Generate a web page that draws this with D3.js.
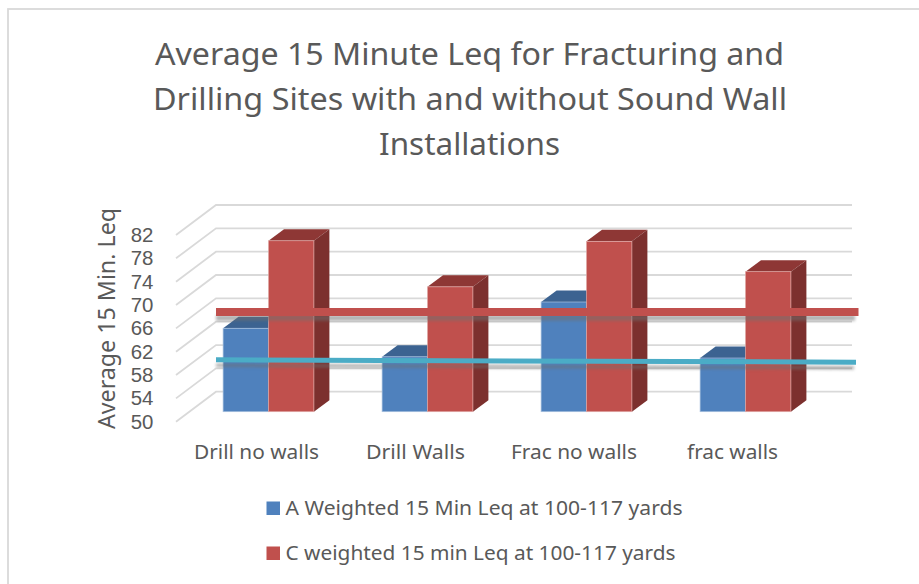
<!DOCTYPE html>
<html><head><meta charset="utf-8">
<script src="https://cdn.jsdelivr.net/npm/d3@7/dist/d3.min.js"></script>
<style>html,body{margin:0;padding:0;background:#fff}svg{display:block}text{font-family:"Noto Sans",Lato,sans-serif}</style>
</head><body><svg id="c" width="919" height="584"></svg>
<script>
const titleLines = ["Average 15 Minute Leq for Fracturing and","Drilling Sites with and without Sound Wall","Installations"];
const yAxisTitle = "Average 15 Min. Leq";
const categories = ["Drill no walls","Drill Walls","Frac no walls","frac walls"];
const seriesNames = ["A Weighted 15 Min Leq at 100-117 yards","C weighted 15 min Leq at 100-117 yards"];
const seriesA = [64.3,59.4,68.8,59.2];
const seriesC = [79.3,71.4,79.2,74.0];
const yTicks = [50,54,58,62,66,70,74,78,82];
const redLine = [68.8,68.8];
const tealLine = [60.6,60.2];

const svg = d3.select("#c");
const defs = svg.append("defs");
defs.append("filter").attr("id","sh").attr("filterUnits","userSpaceOnUse")
  .attr("x",0).attr("y",0).attr("width",919).attr("height",584)
  .append("feGaussianBlur").attr("stdDeviation",1.8);

svg.append("rect").attr("x",8).attr("y",9).attr("width",950).attr("height",620).attr("fill","#fff").attr("stroke","#d9d9d9").attr("stroke-width",1.8);

const x = d3.scaleBand().domain(categories).range([176,812]);
const y = d3.scaleLinear().domain([50,82]).range([421.7,235]);
const sub = d3.scaleBand().domain([0,1]).range([0,90.8]);
const backDx=40, backDy=30, barDx=13, barDy=10, depthDx=15.5, depthDy=11.5;
const barLeft = c => x(c)+x.bandwidth()/2-45.4+barDx;

function fit(sel,w){return sel.attr("textLength",w).attr("lengthAdjust","spacingAndGlyphs");}

// gridlines
const g = svg.append("g");
yTicks.forEach(t=>{
  const p = d3.path();
  p.moveTo(x.range()[0],y(t));
  p.lineTo(x.range()[0]+backDx,y(t)-backDy);
  p.lineTo(x.range()[1]+backDx,y(t)-backDy);
  g.append("path").attr("d",p).attr("fill","none").attr("stroke","#d9d9d9").attr("stroke-width",1.8);
});

// bars
const shades = [{f:"#4f81bd",t:"#3c6391",s:"#2f5277",e:"#a7c0de"},{f:"#c0504d",t:"#8e3735",s:"#7c302e",e:"#dfa8a6"}];
categories.forEach((c,i)=>{
  [seriesA[i],seriesC[i]].forEach((v,k)=>{
    const X=barLeft(c)+sub(k), W=sub.bandwidth(), Y=y(v)-barDy, B=y(50)-barDy, col=shades[k];
    const poly=pts=>g.append("polygon").attr("points",pts.map(q=>q.join(",")).join(" "));
    poly([[X,Y],[X+depthDx,Y-depthDy],[X+W+depthDx,Y-depthDy],[X+W,Y]]).attr("fill",col.t);
    poly([[X+W,Y],[X+W+depthDx,Y-depthDy],[X+W+depthDx,B-depthDy],[X+W,B]]).attr("fill",col.s);
    g.append("rect").attr("x",X).attr("y",Y).attr("width",W).attr("height",B-Y).attr("fill",col.f).attr("stroke",col.e).attr("stroke-width",.7);
  });
});

// annotation lines with soft shadow
const lx = d3.scaleLinear().domain([0,1]);
function annot(vals,x0,x1,sx1,color,w,shOff){
  const sh=d3.line().x((d,i)=>x0+(sx1-x0)*i).y(d=>y(d)+shOff);
  const line=d3.line().x((d,i)=>lx.range([x0,x1])(i)).y(d=>y(d));
  svg.append("path").attr("d",sh(vals)).attr("fill","none").attr("stroke","#6f6f6f").attr("stroke-width",w*0.7).attr("opacity",.55).attr("filter","url(#sh)");
  svg.append("path").attr("d",line(vals)).attr("fill","none").attr("stroke",color).attr("stroke-width",w);
}
annot(redLine,216,858.5,855,"#c0504d",8,6);
annot(tealLine,216,856,854,"#4bacc6",5,5.5);

// y labels
svg.append("g").selectAll("text").data(yTicks).join("text")
  .attr("x",130.7).attr("y",d=>y(d)+7).attr("font-size",20).attr("fill","#595959")
  .style("font-family","'Liberation Sans',sans-serif")
  .attr("textLength",22.7).attr("lengthAdjust","spacingAndGlyphs").text(d=>d);
fit(svg.append("text").attr("transform","translate(97.5,429) rotate(-90)").attr("font-size",23).attr("fill","#595959").attr("y",17.5),221).text(yAxisTitle);

// category labels
const catSpan=[[194,125],[366,99],[511,126],[687,91]];
svg.append("g").selectAll("text").data(categories).join("text")
  .attr("x",(d,i)=>catSpan[i][0]).attr("y",458.5).attr("font-size",19).attr("fill","#595959")
  .attr("textLength",(d,i)=>catSpan[i][1]).attr("lengthAdjust","spacingAndGlyphs").text(d=>d);

// title
const titleSpan=[[155,629],[153,634],[379,181]];
svg.append("g").selectAll("text").data(titleLines).join("text")
  .attr("x",(d,i)=>titleSpan[i][0]).attr("y",(d,i)=>64.5+i*45.2).attr("font-size",31).attr("fill","#595959")
  .attr("textLength",(d,i)=>titleSpan[i][1]).attr("lengthAdjust","spacingAndGlyphs").text(d=>d);

// legend
const lg=svg.append("g");
const legW=[397,390];
seriesNames.forEach((n,i)=>{
  const Y=[508,553][i];
  lg.append("rect").attr("x",266.5).attr("y",Y-6.5).attr("width",13.5).attr("height",13.5).attr("fill",shades[i].f);
  fit(lg.append("text").attr("x",285.5).attr("y",Y+7).attr("font-size",19).attr("fill","#595959"),legW[i]).text(n);
});
</script></body></html>
